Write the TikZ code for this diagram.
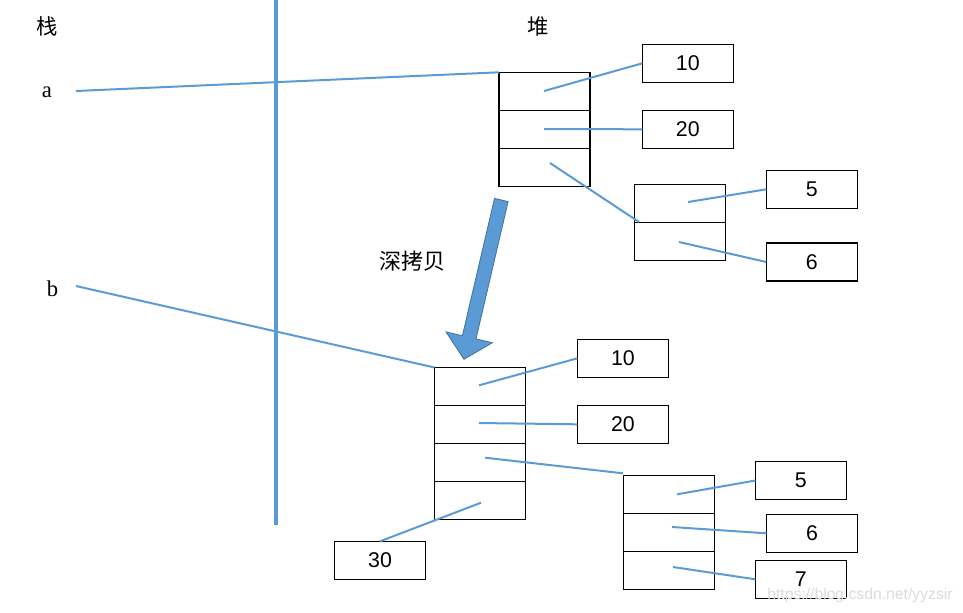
\documentclass[tikz,border=0pt]{standalone}
\usepackage{fontspec}
\setmainfont{Liberation Serif}
\newfontfamily\cjk{Noto Sans CJK SC}
\newfontfamily\numfont{Liberation Sans}
\definecolor{lineblue}{RGB}{91,155,213}
\definecolor{arrowedge}{RGB}{65,113,156}
\begin{document}
\begin{tikzpicture}[x=0.75pt,y=-0.75pt,
  cell/.style={draw=black,line width=0.9pt,minimum width=68.25pt,minimum height=28.5pt,inner sep=0pt,outer sep=0pt},
  valbox/.style={cell,font=\numfont\fontsize{16}{19}\selectfont},
  link/.style={draw=lineblue,line width=1.5pt},
  divider/.style={draw=lineblue,line width=3pt},
  cjklabel/.style={font=\cjk\fontsize{16}{19}\selectfont,inner sep=0pt},
  varlabel/.style={font=\fontsize{17}{20}\selectfont,inner sep=0pt},
  bigarrow/.style={fill=lineblue,draw=arrowedge,line width=0.6pt,line join=miter},
  watermark/.style={font=\numfont\fontsize{11.8}{14}\selectfont,text=black!14,inner sep=0pt}]
\useasboundingbox (0,0) rectangle (963,612);

% stack / heap divider
\coordinate (divtop) at (276,0);
\coordinate (divbot) at (276,525);
\draw[divider] (divtop) -- (divbot);

% labels
\node[cjklabel] (stack) at (47,26.5) {栈};
\node[cjklabel] (heap) at (538,26.5) {堆};
\node[varlabel] (a) at (47,92) {a};
\node[varlabel] (b) at (52.5,289) {b};
\node[cjklabel,font=\cjk\fontsize{16.5}{19}\selectfont] (deep) at (412,261.5) {深拷贝};

% ---------- upper heap ----------
\node[cell] (h1) at (544.5,91.3) {};
\node[cell] (h2) at (544.5,129.3) {};
\node[cell] (h3) at (544.5,167.3) {};
\node[valbox] (v10) at (687.8,63.3) {10};
\node[valbox] (v20) at (687.8,129.3) {20};
\node[cell] (s1) at (679.8,203.3) {};
\node[cell] (s2) at (679.8,241.7) {};
\node[valbox] (v5) at (811.8,189.3) {5};
\node[valbox] (v6) at (811.8,262) {6};

\coordinate (aend) at (76,91);
\coordinate (h1p) at (544,91);
\coordinate (h2p) at (544,129);
\coordinate (h3p) at (550,163);
\coordinate (s1in) at (639,222);
\coordinate (s1p) at (688,202);
\coordinate (s2p) at (679,242);
\draw[link] (aend) -- (h1.north west);
\draw[link] (h1p) -- (v10.west);
\draw[link] (h2p) -- (v20.west);
\draw[link] (h3p) -- (s1in);
\draw[link] (s1p) -- (v5.west);
\draw[link] (s2p) -- (v6.west);

% ---------- deep copy arrow ----------
\draw[bigarrow] (494.5,198.4) -- (508.1,201.6) -- (476.0,338.9) -- (492.4,342.7)
  -- (464,359.3) -- (446.0,331.9) -- (462.4,335.7) -- cycle;

% ---------- lower heap ----------
\node[cell] (g1) at (480,386.5) {};
\node[cell] (g2) at (480,424.5) {};
\node[cell] (g3) at (480,462.5) {};
\node[cell] (g4) at (480,500.5) {};
\node[valbox] (w10) at (622.9,358.3) {10};
\node[valbox] (w20) at (622.9,424.3) {20};
\node[valbox] (w30) at (380,560.3) {30};
\node[cell] (t1) at (668.8,494.5) {};
\node[cell] (t2) at (668.8,532.5) {};
\node[cell] (t3) at (668.8,570.5) {};
\node[valbox] (w5) at (800.9,480.5) {5};
\node[valbox] (w6) at (812,533.3) {6};
\node[valbox] (w7) at (800.9,579.3) {7};

\coordinate (bend) at (76,286);
\coordinate (g1p) at (479,385.3);
\coordinate (g2p) at (479,423);
\coordinate (g3p) at (485,457.7);
\coordinate (g4p) at (481,502.7);
\coordinate (t0) at (623,473.3);
\coordinate (t1p) at (677,494.3);
\coordinate (t2p) at (672,527);
\coordinate (t3p) at (673,567);
\draw[link] (bend) -- (g1.north west);
\draw[link] (g1p) -- (w10.west);
\draw[link] (g2p) -- (w20.west);
\draw[link] (g3p) -- (t0);
\draw[link] (g4p) -- (w30.north);
\draw[link] (t1p) -- (w5.west);
\draw[link] (t2p) -- (w6.west);
\draw[link] (t3p) -- (w7.west);

% watermark
\node[watermark,anchor=west] (wm) at (767,595) {https://blog.csdn.net/yyzsir};
\end{tikzpicture}
\end{document}
